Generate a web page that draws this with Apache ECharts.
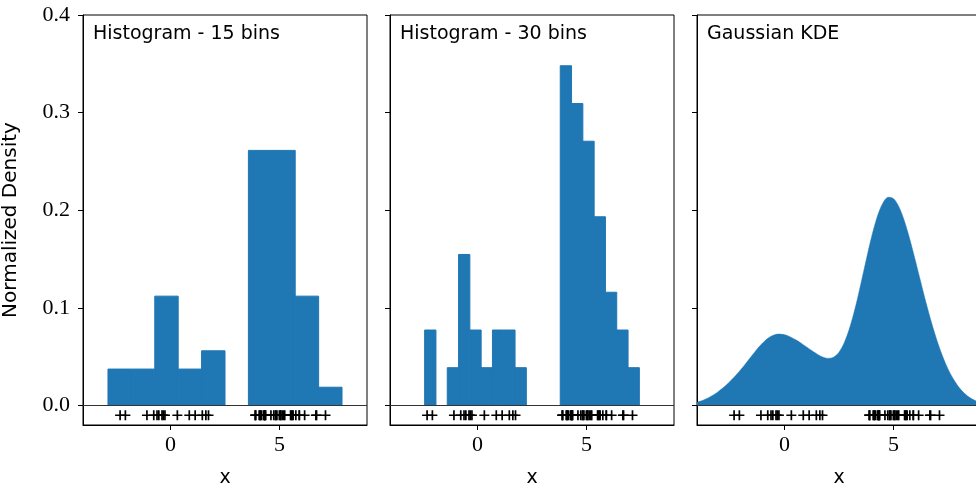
<!DOCTYPE html>
<html><head><meta charset="utf-8">
<script src="https://cdn.jsdelivr.net/npm/echarts@6/dist/echarts.min.js"></script>
<style>html,body{margin:0;padding:0;background:#fff}#c{width:976px;height:487px}</style>
</head><body><div id="c"></div>
<script>
// rug sample values (x positions of the "+" marks)
const rugX = [1.624, -0.612, -0.528, -1.073, 0.865, -2.302, 1.745, -0.761, 0.319, -0.249,
  1.462, -2.060, -0.322, -0.384, 1.134, 3.900, 4.828, 4.122, 5.042, 5.583,
  3.899, 6.145, 5.902, 5.502, 5.901, 4.316, 4.877, 4.064, 4.732, 5.530,
  4.308, 4.603, 4.313, 4.155, 4.329, 4.987, 3.883, 5.234, 6.660, 5.742,
  4.808, 4.112, 4.253, 6.692, 5.051, 4.363, 5.191, 7.100, 5.120, 5.617];
const rugY = -0.01;

// 15-bin histogram: bin edges and normalized density per bin
const hist15Edges = [-5, -3.929, -2.857, -1.786, -0.714, 0.357, 1.429, 2.5, 3.571, 4.643, 5.714, 6.786, 7.857, 8.929, 10];
const hist15Density = [0, 0, 0.0373, 0.0373, 0.112, 0.0373, 0.056, 0, 0.2613, 0.2613, 0.112, 0.0187, 0, 0];

// 30-bin histogram
const hist30Edges = [-5, -4.483, -3.966, -3.448, -2.931, -2.414, -1.897, -1.379, -0.862, -0.345,
  0.172, 0.690, 1.207, 1.724, 2.241, 2.759, 3.276, 3.793, 4.310, 4.828,
  5.345, 5.862, 6.379, 6.897, 7.414, 7.931, 8.448, 8.966, 9.483, 10];
const hist30Density = [0, 0, 0, 0, 0, 0.0773, 0, 0.0387, 0.1547, 0.0773,
  0.0387, 0.0773, 0.0773, 0.0387, 0, 0, 0, 0.348, 0.3093, 0.2707,
  0.1933, 0.116, 0.0773, 0.0387, 0, 0, 0, 0, 0];

// Gaussian KDE curve samples (every 0.25 from -4 to 9)
const kdeX = [-4, -3.75, -3.5, -3.25, -3, -2.75, -2.5, -2.25, -2, -1.75, -1.5, -1.25, -1, -0.75, -0.5, -0.25,
  0, 0.25, 0.5, 0.75, 1, 1.25, 1.5, 1.75, 2, 2.25, 2.5, 2.75, 3, 3.25, 3.5, 3.75,
  4, 4.25, 4.5, 4.75, 5, 5.25, 5.5, 5.75, 6, 6.25, 6.5, 6.75, 7, 7.25, 7.5, 7.75,
  8, 8.25, 8.5, 8.75, 9];
const kdeY = [0.0033, 0.0051, 0.0076, 0.0108, 0.0147, 0.0192, 0.0244, 0.0302, 0.0366, 0.0435, 0.0507, 0.0577, 0.0639, 0.0689, 0.0720, 0.0731,
  0.0725, 0.0705, 0.0675, 0.0641, 0.0602, 0.0563, 0.0526, 0.0496, 0.0482, 0.0494, 0.0546, 0.0648, 0.0803, 0.1006, 0.1245, 0.1496,
  0.1734, 0.1933, 0.2069, 0.2133, 0.2118, 0.2031, 0.1885, 0.1695, 0.1480, 0.1257, 0.1039, 0.0836, 0.0655, 0.0499, 0.0369, 0.0265,
  0.0183, 0.0122, 0.0078, 0.0048, 0.0028];

const panelTitles = ['Histogram - 15 bins', 'Histogram - 30 bins', 'Gaussian KDE'];
const yTicks = [0, 0.1, 0.2, 0.3, 0.4];
const xTicks = [0, 5];
const xName = 'x';
const yName = 'Normalized Density';

const BLUE = '#1f77b4';
const SERIF = "'Liberation Serif', 'DejaVu Serif', serif";
const SANS = "'DejaVu Sans', 'Noto Sans', sans-serif";
const lefts = [83, 390, 697];
const W = 284, TOP = 15, H = 410;

const chart = echarts.init(document.getElementById('c'), null, {renderer: 'canvas'});

const grids = lefts.map(l => ({left: l, top: TOP, width: W, height: H, show: true, borderColor: '#000', borderWidth: 1,
  backgroundColor: 'transparent', containLabel: false, outerBoundsMode: 'none'}));
const xAxes = lefts.map((l, i) => ({
  type: 'value', gridIndex: i, min: -4, max: 9,
  axisLine: {show: true, onZero: false, lineStyle: {color: '#000', width: 1}},
  axisTick: {show: true, customValues: xTicks, length: 5, inside: false, lineStyle: {color: '#000'}},
  axisLabel: {show: true, customValues: xTicks, color: '#000', fontFamily: SERIF, fontSize: 22, margin: 9},
  splitLine: {show: false},
  name: xName, nameLocation: 'middle', nameGap: 44,
  nameTextStyle: {color: '#000', fontFamily: SANS, fontSize: 19}
}));
const yAxes = lefts.map((l, i) => ({
  type: 'value', gridIndex: i, min: -0.02, max: 0.4,
  axisLine: {show: true, onZero: false, lineStyle: {color: '#000', width: 1}},
  axisTick: {show: true, customValues: yTicks, length: 5, lineStyle: {color: '#000'}},
  axisLabel: {show: i === 0, customValues: yTicks, color: '#000', fontFamily: SERIF, fontSize: 22, margin: 13,
    formatter: v => Number(v).toFixed(1)},
  splitLine: {show: false},
  name: i === 0 ? yName : '', nameLocation: 'middle', nameGap: 62, nameRotate: 90,
  nameTextStyle: {color: '#000', fontFamily: SANS, fontSize: 20}
}));

function histData(edges, dens) {
  return dens.map((d, k) => [edges[k], edges[k + 1], d]);
}
function histSeries(idx, edges, dens) {
  return {
    type: 'custom', xAxisIndex: idx, yAxisIndex: idx, clip: true,
    data: histData(edges, dens),
    encode: {x: [0, 1], y: 2},
    renderItem: function (params, api) {
      const h = api.value(2);
      if (!h) return null;
      const p0 = api.coord([api.value(0), h]);
      const p1 = api.coord([api.value(1), 0]);
      return {
        type: 'rect',
        shape: {x: p0[0], y: p0[1], width: p1[0] - p0[0], height: p1[1] - p0[1]},
        style: {fill: BLUE, stroke: BLUE, lineWidth: 1}
      };
    },
    z: 2
  };
}
const plusPath = 'path://M0,4.15H10V5.85H0Z M4.15,0H5.85V10H4.15Z';
function rugSeries(idx) {
  return {
    type: 'scatter', xAxisIndex: idx, yAxisIndex: idx,
    data: rugX.map(x => [x, rugY]),
    symbol: plusPath, symbolSize: 10,
    itemStyle: {color: '#000', opacity: 1},
    silent: true, z: 5,
    markLine: {
      silent: true, symbol: 'none', animation: false,
      label: {show: false},
      lineStyle: {color: '#333', width: 1, type: 'solid'},
      data: [{yAxis: 0}]
    }
  };
}

const option = {
  animation: false,
  backgroundColor: '#fff',
  title: panelTitles.map((t, i) => ({
    text: t, left: lefts[i] + 10, top: 25, padding: 0,
    textStyle: {color: '#000', fontFamily: SANS, fontSize: 19, fontWeight: 'normal'}
  })),
  grid: grids,
  xAxis: xAxes,
  yAxis: yAxes,
  series: [
    histSeries(0, hist15Edges, hist15Density),
    histSeries(1, hist30Edges, hist30Density),
    {
      type: 'line', xAxisIndex: 2, yAxisIndex: 2,
      data: kdeX.map((x, i) => [x, kdeY[i]]),
      smooth: 0.3, showSymbol: false, clip: true,
      lineStyle: {color: BLUE, width: 0.5},
      areaStyle: {color: BLUE, opacity: 1, origin: 'auto'},
      z: 2
    },
    rugSeries(0), rugSeries(1), rugSeries(2)
  ]
};
chart.setOption(option);
</script>
</body></html>
